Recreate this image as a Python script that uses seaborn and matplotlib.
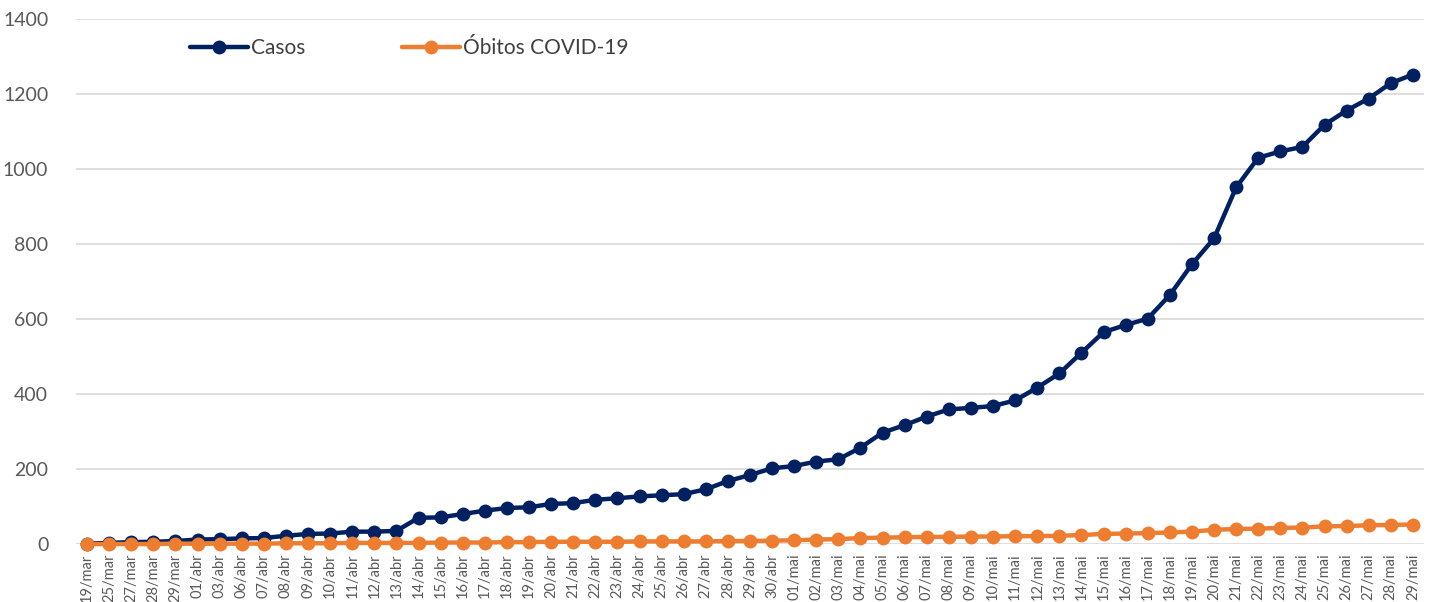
import pandas as pd
import matplotlib.pyplot as plt
import seaborn as sns

dates = ["19/mar", "25/mar", "27/mar", "28/mar", "29/mar",
         "01/abr", "03/abr", "06/abr", "07/abr", "08/abr", "09/abr", "10/abr",
         "11/abr", "12/abr", "13/abr", "14/abr", "15/abr", "16/abr", "17/abr",
         "18/abr", "19/abr", "20/abr", "21/abr", "22/abr", "23/abr", "24/abr",
         "25/abr", "26/abr", "27/abr", "28/abr", "29/abr", "30/abr"]
dates += [f"{d:02d}/mai" for d in range(1, 30)]

casos = [1, 3, 5, 6, 8,
         12, 13, 15, 16, 22, 27, 28, 33, 33, 35,
         70, 71, 80, 89, 96,
         98, 107, 109, 118, 122, 127, 130, 133, 146, 168, 184,
         202, 208, 220, 226,
         257, 297, 317, 340, 359, 363,
         368, 383, 417, 455, 510,
         565, 584, 601, 664, 746,
         815, 951, 1030, 1047, 1059,
         1118, 1156, 1188, 1229, 1252]

obitos = [0, 0, 0, 0, 1,
          1, 1, 1, 1, 2, 2, 2, 3, 3, 3,
          3, 4, 4, 4, 5,
          5, 6, 6, 6, 6, 7, 7, 7, 7, 8, 8,
          9, 10, 12, 13,
          16, 17, 18, 19, 19, 20,
          20, 21, 21, 22, 24,
          27, 28, 29, 31, 33,
          38, 40, 41, 43, 44,
          47, 48, 50, 51, 52]

df = pd.DataFrame({"data": dates, "Casos": casos, "Óbitos COVID-19": obitos})

sns.set_style("white")
plt.rcParams["font.family"] = ["Lato", "DejaVu Sans"]

fig = plt.figure(figsize=(14.35, 6.02), dpi=100)
ax = fig.add_axes([0.053, 0.0963, 0.9393, 0.8721])

sns.lineplot(data=df, x="data", y="Casos", sort=False, color="#002060",
             marker="o", markersize=10, markeredgewidth=0, linewidth=3.2,
             label="Casos", ax=ax, zorder=3, clip_on=False)
sns.lineplot(data=df, x="data", y="Óbitos COVID-19", sort=False, color="#ED7D31",
             marker="o", markersize=10, markeredgewidth=0, linewidth=3.2,
             label="Óbitos COVID-19", ax=ax, zorder=4, clip_on=False)

ax.set_xlim(-0.5, len(dates) - 0.5)
ax.set_ylim(0, 1400)
ax.set_yticks(range(0, 1401, 200))
ax.yaxis.grid(True, color="#D9D9D9", linewidth=1.2)
ax.set_axisbelow(True)
for s in ax.spines.values():
    s.set_visible(False)
ax.tick_params(axis="y", length=0, labelsize=14, labelcolor="#595959", pad=20)
ax.tick_params(axis="x", length=0, labelsize=10.5, labelcolor="#595959", pad=7)
plt.setp(ax.get_xticklabels(), rotation=90)
ax.set_xlabel("")
ax.set_ylabel("")

ax.legend(loc="center left", bbox_to_anchor=(0.1324, 0.920),
          bbox_transform=fig.transFigure, ncol=2, frameon=False,
          fontsize=15, handlelength=2.8, handletextpad=0.15,
          columnspacing=4.6, borderpad=0, borderaxespad=0,
          labelcolor="#404040")

fig.savefig("out.png", dpi=100)
